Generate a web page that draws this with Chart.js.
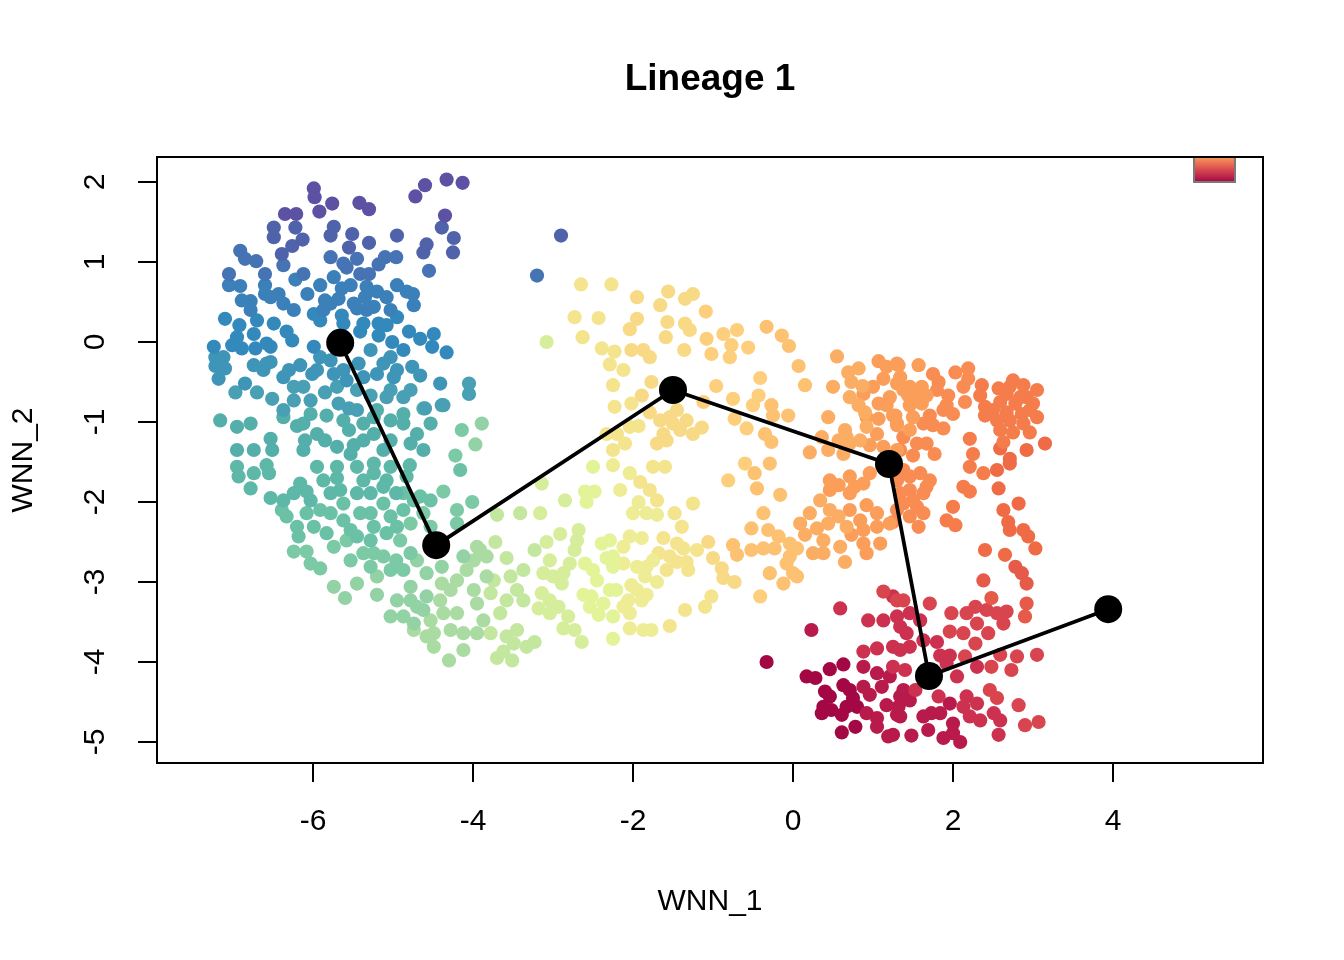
<!DOCTYPE html>
<html>
<head>
<meta charset="utf-8">
<script src="https://cdn.jsdelivr.net/npm/chart.js@4.4.1/dist/chart.umd.min.js"></script>
<style>
  html, body { margin: 0; padding: 0; background: #fff; }
  #wrap { width: 1344px; height: 960px; }
</style>
</head>
<body>
<div id="wrap"><canvas id="lineage" width="1344" height="960"></canvas></div>
<script>
// cells, grouped by colour band along the pseudotime (start = purple, end = dark red)
const purple = [[-5.99,1.92],[-5.98,1.81],[-5.76,1.73],[-5.92,1.63],[-5.42,1.74],[-5.30,1.66],[-6.35,1.60],[-6.21,1.60],[-4.60,1.96],[-4.72,1.82],[-4.33,2.03],[-4.13,1.99],[-4.35,1.58]];
const indigo = [[-6.22,1.43],[-6.49,1.43],[-6.49,1.31],[-6.13,1.28],[-5.74,1.44],[-5.78,1.33],[-5.51,1.35],[-5.30,1.24],[-4.95,1.33],[-4.39,1.43],[-4.24,1.30],[-4.58,1.22],[-4.62,1.12],[-4.25,1.12],[-2.90,1.33],[-6.39,1.10],[-6.26,1.20],[-5.55,1.18]];
const blueIndigo = [[-6.91,1.14],[-6.85,1.04],[-6.71,1.01],[-6.37,0.96],[-5.78,1.06],[-5.45,1.04],[-5.58,0.93],[-5.10,1.06],[-4.96,1.06],[-5.18,0.97],[-5.41,0.85],[-5.30,0.85],[-4.55,0.89],[-7.05,0.85],[-6.60,0.85],[-6.12,0.85],[-3.20,0.83],[-5.62,0.98]];
const blue = [[-7.05,0.71],[-6.91,0.70],[-6.60,0.71],[-6.22,0.78],[-6.07,0.60],[-5.91,0.71],[-5.74,0.81],[-5.64,0.67],[-5.53,0.71],[-6.60,0.60],[-6.43,0.60],[-4.95,0.71],[-4.83,0.63],[-4.75,0.60],[-4.74,0.46],[-5.20,0.63],[-5.35,0.56],[-5.08,0.56],[-5.85,0.52],[-5.68,0.54],[-6.78,0.51],[-6.78,0.40],[-6.24,0.40],[-5.87,0.40],[-5.45,0.42],[-5.33,0.40],[-6.89,0.52],[-6.53,0.56],[-6.37,0.48],[-5.78,0.48],[-5.49,0.48],[-5.24,0.44],[-5.03,0.40],[-5.33,0.69]];
const blue2 = [[-7.10,0.29],[-6.92,0.21],[-6.70,0.27],[-6.49,0.23],[-6.33,0.13],[-6.26,0.02],[-6.74,0.10],[-7.01,-0.04],[-7.24,-0.06],[-6.89,-0.08],[-6.72,-0.08],[-6.53,-0.06],[-5.91,0.27],[-5.64,0.33],[-5.18,0.23],[-5.08,0.21],[-5.41,0.13],[-5.18,0.08],[-5.01,0.00],[-4.80,0.13],[-4.66,0.04],[-4.49,0.10],[-4.51,-0.06],[-4.33,-0.13],[-5.99,0.35],[-4.95,0.31],[-5.62,0.23],[-5.37,0.23],[-6.95,0.06],[-6.58,-0.02],[-5.99,-0.06],[-5.70,-0.06],[-4.87,-0.10]];
const tealBlue = [[-7.22,-0.19],[-7.22,-0.30],[-7.10,-0.33],[-7.18,-0.46],[-6.74,-0.29],[-6.53,-0.25],[-6.62,-0.35],[-6.16,-0.29],[-5.91,-0.19],[-5.43,-0.27],[-5.28,-0.10],[-5.03,-0.19],[-4.76,-0.31],[-6.37,-0.44],[-6.01,-0.40],[-5.74,-0.40],[-5.20,-0.40],[-4.99,-0.44],[-4.66,-0.42],[-6.85,-0.52],[-4.41,-0.52],[-5.58,-0.48],[-7.12,-0.19],[-6.58,-0.27],[-6.30,-0.35],[-5.95,-0.35],[-5.78,-0.23],[-5.62,-0.35],[-5.37,-0.44],[-5.12,-0.27],[-4.95,-0.35]];
const tealBlue2 = [[-6.97,-0.63],[-6.70,-0.63],[-6.12,-0.56],[-5.70,-0.56],[-5.85,-0.63],[-5.45,-0.60],[-5.28,-0.67],[-5.08,-0.69],[-4.87,-0.69],[-6.51,-0.71],[-6.24,-0.73],[-6.03,-0.73],[-6.37,-0.85],[-5.68,-0.77],[-5.55,-0.83],[-4.37,-0.79],[-4.60,-0.83],[-4.05,-0.52],[-4.05,-0.65],[-4.39,-0.79],[-6.24,-0.56],[-5.03,-0.60],[-4.78,-0.60],[-5.45,-0.85]];
const teal = [[-7.16,-0.98],[-6.95,-1.06],[-6.78,-1.02],[-6.53,-1.21],[-6.20,-1.05],[-6.10,-1.23],[-6.03,-0.90],[-5.83,-0.92],[-5.85,-1.23],[-5.55,-1.10],[-5.37,-1.02],[-5.20,-0.85],[-5.03,-0.98],[-4.87,-1.02],[-4.62,-0.83],[-4.70,-1.15],[-5.24,-1.15],[-5.03,-1.23],[-6.51,-1.35],[-6.12,-1.35],[-5.70,-1.31],[-5.49,-1.29],[-4.62,-1.35],[-6.95,-1.35],[-6.74,-1.35],[-5.24,-0.94],[-5.62,-0.98],[-6.12,-1.02],[-6.37,-0.94],[-5.95,-1.15],[-5.37,-1.23],[-5.12,-1.35],[-4.78,-1.27],[-4.87,-0.90],[-4.53,-1.02],[-5.53,-1.40]];
const teal2 = [[-6.95,-1.56],[-6.93,-1.68],[-6.74,-1.64],[-6.58,-1.54],[-6.55,-1.64],[-6.78,-1.83],[-6.16,-1.77],[-6.08,-1.87],[-5.95,-1.56],[-5.87,-1.73],[-5.70,-1.70],[-5.78,-1.89],[-5.45,-1.89],[-5.45,-1.56],[-5.24,-1.64],[-5.08,-1.73],[-5.28,-1.89],[-4.96,-1.89],[-4.83,-1.68],[-4.79,-1.54],[-6.53,-1.95],[-6.37,-1.98],[-6.24,-1.89],[-6.03,-1.98],[-5.66,-1.85],[-5.37,-1.73],[-5.12,-1.81],[-5.03,-1.56],[-5.24,-1.52],[-5.70,-1.56]];
const greenTeal = [[-6.39,-2.10],[-6.33,-2.18],[-6.20,-2.31],[-6.18,-2.43],[-6.08,-2.14],[-5.91,-2.10],[-5.99,-2.31],[-5.83,-2.39],[-5.62,-2.23],[-5.53,-2.35],[-5.62,-2.02],[-5.12,-2.02],[-5.28,-2.14],[-5.03,-2.18],[-5.24,-2.31],[-4.66,-1.93],[-4.53,-1.98],[-4.16,-1.60],[-5.78,-2.14],[-5.41,-2.14],[-5.45,-2.43],[-5.28,-2.48],[-5.08,-2.39],[-4.95,-2.31],[-4.87,-2.10],[-4.74,-1.98],[-4.87,-1.89]];
const green = [[-6.24,-2.62],[-6.08,-2.62],[-6.03,-2.77],[-5.91,-2.83],[-5.74,-2.56],[-5.58,-2.48],[-5.53,-2.73],[-5.37,-2.64],[-4.91,-2.48],[-5.12,-2.68],[-5.03,-2.85],[-4.78,-2.27],[-4.78,-2.64],[-4.37,-1.87],[-4.20,-2.10],[-4.20,-2.27],[-4.01,-2.00],[-4.14,-1.10],[-4.22,-1.42],[-4.62,-2.14],[-4.53,-2.31],[-5.24,-2.64],[-5.28,-2.81],[-4.96,-2.73],[-4.87,-2.85]];
const lightGreen = [[-5.74,-3.06],[-5.60,-3.20],[-5.45,-3.02],[-5.20,-3.16],[-5.03,-3.43],[-4.95,-3.23],[-4.78,-3.06],[-4.70,-3.31],[-4.74,-3.52],[-4.58,-3.18],[-4.70,-2.73],[-4.58,-2.89],[-4.39,-2.81],[-4.12,-2.68],[-3.97,-1.28],[-3.89,-1.02],[-5.20,-2.93],[-4.78,-3.23],[-4.62,-3.35],[-4.87,-3.43]];
const paleGreen = [[-4.53,-3.48],[-4.49,-3.64],[-4.49,-3.81],[-4.37,-3.39],[-4.39,-3.02],[-4.20,-3.39],[-4.28,-3.60],[-4.30,-3.98],[-4.12,-3.85],[-4.12,-3.64],[-4.20,-2.98],[-3.99,-3.10],[-3.95,-2.56],[-3.95,-3.27],[-3.87,-3.48],[-3.95,-3.64],[-3.83,-2.93],[-4.74,-3.60],[-4.58,-3.68],[-4.41,-3.23],[-4.28,-3.10],[-4.08,-2.85],[-3.99,-2.73],[-3.83,-2.68],[-3.91,-2.60]];
const yellowGreen = [[-3.74,-2.98],[-3.66,-3.39],[-3.72,-2.50],[-3.58,-2.70],[-3.70,-2.16],[-3.45,-3.10],[-3.37,-3.23],[-3.49,-3.77],[-3.70,-3.95],[-3.51,-3.98],[-3.62,-3.87],[-3.33,-3.81],[-3.45,-3.60],[-3.41,-2.14],[-3.23,-2.60],[-3.23,-3.75],[-3.78,-3.14],[-3.58,-3.23],[-3.53,-2.93],[-3.37,-2.85],[-3.58,-3.68],[-3.78,-3.64]];
const yellowGreen2 = [[-3.14,-1.77],[-3.16,-2.14],[-3.08,-2.50],[-2.91,-2.40],[-2.68,-2.35],[-2.70,-2.48],[-2.73,-2.60],[-2.79,-2.77],[-2.87,-2.89],[-2.89,-3.02],[-3.14,-3.14],[-3.04,-3.23],[-2.93,-3.31],[-3.18,-3.33],[-2.81,-3.43],[-2.73,-3.60],[-2.64,-3.75],[-2.85,-1.98],[-3.08,0.00],[-3.04,-2.73],[-3.00,-2.93],[-3.12,-2.89],[-3.04,-3.39],[-2.87,-3.58]];
const yellowGreen3 = [[-2.60,-2.77],[-2.50,-2.85],[-2.39,-2.52],[-2.29,-2.48],[-2.33,-2.70],[-2.25,-2.81],[-2.62,-3.16],[-2.52,-3.18],[-2.54,-3.31],[-2.43,-3.41],[-2.21,-3.10],[-2.25,-3.43],[-2.50,-1.56],[-2.60,-1.87],[-2.48,-1.87],[-2.58,-2.00],[-2.25,-3.71],[-2.45,-2.98],[-2.29,-3.10],[-2.37,-3.27],[-2.25,-2.68]];
const paleYellow = [[-2.25,-1.54],[-2.16,-1.85],[-1.93,-2.00],[-2.00,-2.14],[-1.83,-2.14],[-2.04,-2.43],[-1.89,-2.45],[-2.12,-2.77],[-1.95,-2.81],[-1.83,-2.81],[-1.85,-2.93],[-2.02,-3.04],[-2.06,-3.23],[-2.04,-3.39],[-1.89,-3.23],[-1.83,-3.16],[-2.04,-3.58],[-1.87,-3.60],[-1.77,-3.60],[-1.70,-2.16],[-1.70,-3.00],[-2.12,-3.31],[-1.95,-3.10],[-2.12,-2.56],[-1.75,-2.73],[-2.04,-1.64]];
const yellow = [[-1.91,-1.75],[-1.79,-1.85],[-1.75,-1.56],[-1.60,-1.56],[-1.48,-2.14],[-1.39,-2.31],[-1.25,-2.02],[-1.62,-2.45],[-1.68,-2.64],[-1.58,-2.85],[-1.45,-2.75],[-1.33,-2.75],[-1.31,-2.85],[-1.54,-3.55],[-1.35,-3.35],[-1.10,-3.31],[-1.02,-3.18],[-1.37,-2.58],[-1.20,-2.60],[-2.65,0.72],[-2.27,0.72],[-2.73,0.31],[-2.43,0.30],[-2.63,0.06],[-2.39,-0.08],[-2.23,-0.12],[-2.29,-0.28],[-2.12,-0.35],[-2.25,-0.54],[-2.23,-0.81],[-2.33,-1.15],[-2.10,-1.27],[-2.02,-0.77],[-1.93,-1.05],[-1.54,-2.68],[-1.45,-2.52],[-1.70,-1.98],[-2.20,-1.15],[-2.04,-1.06],[-2.25,-1.35]];
const yellowOrange = [[-1.06,-2.50],[-1.00,-2.70],[-0.89,-2.83],[-0.87,-2.95],[-0.73,-3.00],[-1.89,-0.67],[-1.77,-0.50],[-1.79,-0.88],[-2.02,-0.10],[-1.87,-0.10],[-1.79,-0.19],[-1.95,0.29],[-2.04,0.16],[-1.95,0.56],[-1.66,0.46],[-1.56,0.63],[-1.57,0.25],[-1.59,0.06],[-1.36,-0.10],[-1.35,0.23],[-1.29,0.15],[-1.35,0.54],[-1.25,0.60],[-1.66,-0.98],[-1.54,-0.94],[-1.45,-0.85],[-1.41,-1.10],[-1.25,-1.15],[-1.14,-1.07],[-1.58,-1.23],[-1.70,-1.27],[-1.62,-1.15],[-1.50,-1.02],[-1.33,-0.98]];
const lightOrange = [[-1.09,0.38],[-1.08,0.04],[-1.02,-0.15],[-0.87,0.10],[-0.77,-0.04],[-0.79,-0.19],[-0.70,0.15],[-0.56,-0.07],[-0.96,-0.55],[-1.12,-0.75],[-0.75,-0.71],[-0.41,-0.45],[-0.43,-0.67],[-0.50,-0.79],[-0.73,-0.96],[-0.58,-1.08],[-0.81,-1.73],[-0.60,-1.52],[-0.41,-3.18]];
const lightOrange2 = [[-0.33,0.19],[-0.14,0.08],[-0.05,-0.05],[0.07,-0.30],[0.15,-0.54],[-0.27,-0.79],[-0.25,-0.92],[-0.06,-0.92],[-0.35,-1.15],[-0.27,-1.25],[-0.48,-1.64],[-0.45,-1.83],[-0.29,-1.52],[-0.16,-1.91],[-0.37,-2.14],[-0.52,-2.33],[-0.31,-2.35],[-0.18,-2.43],[-0.75,-2.54],[-0.70,-2.66],[-0.52,-2.60],[-0.37,-2.58],[-0.23,-2.58],[-0.29,-2.89],[-0.12,-3.02],[-0.04,-2.68],[0.00,-2.89],[0.05,-2.93],[0.05,-2.58],[-0.04,-2.52],[-0.08,-2.77]];
const orange = [[0.55,-0.18],[0.69,-0.38],[0.82,-0.33],[0.73,-0.50],[0.87,-0.55],[0.50,-0.56],[0.82,-0.79],[0.90,-0.88],[0.44,-0.94],[0.65,-1.10],[0.92,-1.06],[0.36,-1.19],[0.57,-1.23],[0.71,-1.27],[0.84,-1.23],[0.44,-1.35],[0.21,-1.38],[0.63,-1.40],[0.09,-2.27],[0.21,-2.14],[0.15,-2.41],[0.30,-2.33],[0.38,-2.48],[0.25,-2.64],[0.46,-2.10],[0.44,-2.27],[0.57,-2.18],[0.59,-2.56],[0.65,-2.75],[0.34,-1.98],[0.67,-2.31],[0.38,-2.64],[0.67,-1.19],[0.71,-0.69]];
const orange2 = [[1.07,-0.24],[1.17,-0.31],[1.30,-0.27],[1.13,-0.46],[1.30,-0.52],[1.07,-0.77],[1.17,-0.79],[1.07,-0.96],[1.25,-0.92],[1.05,-1.15],[1.30,-1.02],[0.96,-1.29],[1.13,-1.31],[1.30,-1.35],[1.32,-0.29],[1.34,-0.44],[1.57,-0.29],[1.46,-0.56],[1.61,-0.56],[1.44,-0.67],[1.67,-0.67],[1.46,-0.79],[1.61,-0.77],[1.28,-0.92],[1.30,-1.04],[1.50,-0.94],[1.46,-1.10],[0.46,-1.85],[0.57,-1.79],[0.71,-1.89],[0.77,-1.81],[0.71,-2.10],[0.84,-2.23],[0.73,-2.41],[0.88,-2.35],[0.92,-2.04],[1.05,-2.14],[1.05,-2.31],[1.09,-2.52],[1.21,-2.27],[0.96,-1.64],[0.88,-1.77],[0.46,-1.73],[0.71,-1.68],[0.88,-2.52],[0.92,-2.64],[1.00,-0.56],[0.88,-0.65],[1.21,-0.69],[0.92,-0.94],[1.38,-0.60],[1.55,-0.65]];
const orange3 = [[1.75,-0.40],[1.82,-0.50],[2.03,-0.38],[2.19,-0.33],[1.94,-0.67],[2.13,-0.56],[2.19,-0.46],[1.92,-0.79],[2.15,-0.75],[1.71,-0.92],[1.75,-1.04],[1.88,-1.08],[2.00,-0.90],[1.67,-1.27],[1.77,-1.40],[1.50,-1.42],[1.38,-1.60],[1.59,-1.64],[1.71,-1.73],[1.46,-1.85],[1.63,-1.89],[1.38,-2.02],[1.55,-2.06],[1.46,-2.18],[1.57,-2.31],[1.25,-2.25],[1.80,-0.60],[1.88,-0.85],[1.63,-1.02],[1.38,-1.19],[1.55,-1.27],[1.34,-1.35],[1.30,-1.73],[1.46,-1.68],[1.67,-1.81],[1.34,-1.89],[1.50,-1.98],[1.63,-2.14],[1.30,-2.10]];
const darkOrange = [[2.36,-0.54],[2.34,-0.67],[2.40,-0.81],[2.40,-0.92],[2.21,-1.21],[2.25,-1.40],[2.57,-0.58],[2.75,-0.48],[2.88,-0.54],[3.05,-0.60],[2.67,-0.65],[2.92,-0.69],[2.59,-0.75],[2.78,-0.77],[3.00,-0.77],[2.67,-0.88],[2.86,-0.90],[3.05,-0.94],[2.55,-0.98],[2.59,-1.10],[2.75,-1.13],[2.96,-1.13],[2.63,-1.25],[2.21,-1.56],[2.38,-1.64],[2.13,-1.81],[2.21,-1.87],[2.00,-2.06],[1.92,-2.23],[2.03,-2.29],[2.71,-0.56],[2.84,-0.69],[2.96,-0.85],[2.71,-0.98],[2.88,-1.02],[2.50,-0.85]];
const orangeRed = [[3.15,-1.27],[2.59,-1.33],[2.92,-1.35],[2.71,-1.46],[2.55,-1.60],[2.71,-1.52],[2.57,-1.83],[2.63,-2.10],[2.82,-2.02],[2.69,-2.25],[2.71,-2.35],[2.88,-2.35],[2.94,-2.43],[3.03,-2.58],[2.40,-2.60],[2.65,-2.66]];
const redOrange = [[2.78,-2.81],[2.86,-2.89],[2.92,-3.02],[2.38,-2.98],[2.92,-3.27],[2.90,-3.43],[2.48,-3.20]];
const red = [[1.71,-3.27],[1.38,-3.23],[1.98,-3.39],[2.17,-3.39],[2.28,-3.31],[2.42,-3.35],[2.55,-3.39],[2.67,-3.37],[2.30,-3.52],[2.63,-3.52],[1.96,-3.62],[2.13,-3.64],[2.44,-3.64],[2.28,-3.77],[2.59,-3.91],[2.80,-3.93],[3.05,-3.91],[2.48,-4.06],[2.73,-4.10],[1.13,-3.12],[1.30,-3.23],[2.46,-4.35],[2.55,-4.45],[2.82,-4.54],[2.90,-4.79],[3.07,-4.75],[2.15,-3.93]];
const crimson = [[1.80,-3.75],[1.96,-3.92],[1.84,-3.92],[2.30,-4.06],[2.05,-4.18],[1.25,-3.18],[1.34,-3.56],[1.34,-3.85],[1.25,-4.06],[1.40,-4.10],[2.17,-4.43],[1.82,-4.43],[1.53,-4.35],[2.21,-4.68],[2.51,-4.64],[2.59,-4.73],[2.57,-4.91],[0.94,-3.48],[1.13,-3.48],[0.88,-3.87],[1.05,-3.83],[1.25,-3.81],[0.59,-3.33],[1.46,-3.39],[1.30,-3.43],[1.59,-3.48],[1.42,-3.64],[1.63,-3.73],[1.46,-3.81],[1.92,-4.02],[2.30,-4.52],[2.34,-4.73],[2.13,-4.56]];
const darkCrimson = [[1.46,-4.48],[1.32,-4.56],[1.63,-4.68],[1.84,-4.64],[2.00,-4.77],[1.69,-4.85],[1.48,-4.92],[1.88,-4.95],[2.09,-5.00],[1.25,-4.91],[1.34,-4.68],[0.88,-4.06],[1.05,-4.14],[1.21,-4.18],[1.11,-4.31],[0.96,-4.41],[1.17,-4.54],[1.30,-4.66],[1.05,-4.70],[1.05,-4.81],[1.19,-4.93],[0.23,-3.60],[1.38,-4.35],[1.34,-4.43],[1.96,-4.52],[2.00,-4.89],[1.73,-4.64],[0.88,-4.31],[0.92,-4.64]];
const darkRed = [[0.63,-4.03],[0.46,-4.09],[0.17,-4.18],[0.28,-4.20],[0.63,-4.29],[0.40,-4.37],[0.75,-4.45],[0.80,-4.56],[0.36,-4.64],[0.48,-4.60],[0.61,-4.66],[0.78,-4.81],[0.61,-4.88],[-0.33,-4.00],[0.38,-4.56],[0.46,-4.43],[0.71,-4.35],[0.67,-4.56]];

// lineage 1 curve nodes
const lineageX = [-5.66, -4.46, -1.50, 1.20, 1.70, 3.94];
const lineageY = [-0.01, -2.54, -0.60, -1.525, -4.175, -3.34];

const xTicks = [-6, -4, -2, 0, 2, 4];
const yTicks = [-5, -4, -3, -2, -1, 0, 1, 2];

const bands = [purple, indigo, blueIndigo, blue, blue2, tealBlue, tealBlue2, teal, teal2,
  greenTeal, green, lightGreen, paleGreen, yellowGreen, yellowGreen2, yellowGreen3,
  paleYellow, yellow, yellowOrange, lightOrange, lightOrange2, orange, orange2, orange3,
  darkOrange, orangeRed, redOrange, red, crimson, darkCrimson, darkRed];
const bandColors = ["#5c51a3", "#5062aa", "#4673b3", "#3b80b9", "#3389bc", "#3f95b8", "#49a0b4",
  "#54afab", "#5db8a8", "#6bc1a6", "#7cc9a5", "#93d2a4", "#a9dba2", "#c3e79e", "#d6ee9b", "#e3f398",
  "#eeed95", "#f4e48d", "#f8da86", "#fdcf7d", "#fdc172", "#fcad64", "#fa9e5a", "#f88c52",
  "#f57c4b", "#ef6b46", "#e55a48", "#d9454f", "#cc3250", "#b81b4b", "#a30845"];

const FONT = "'Liberation Sans', Arial, Helvetica, sans-serif";
Chart.defaults.font.family = FONT;
Chart.defaults.color = "#000";

const datasets = [{
  type: "line",
  label: "Lineage 1",
  data: lineageX.map((x, i) => ({ x: x, y: lineageY[i] })),
  borderColor: "#000",
  borderWidth: 3.8,
  pointRadius: 14,
  pointBackgroundColor: "#000",
  pointBorderWidth: 0,
  tension: 0,
  fill: false,
  order: 0,
}];
bands.forEach((band, i) => {
  datasets.push({
    type: "scatter",
    label: "band " + i,
    data: band.map(p => ({ x: p[0], y: p[1] })),
    backgroundColor: bandColors[i],
    pointRadius: 7.1,
    pointBorderWidth: 0,
    order: 1,
  });
});

// R style: box around the plot, bold title, clipped colour key in the corner
const decor = {
  id: "decor",
  afterDraw(chart) {
    const { ctx, chartArea: a } = chart;
    ctx.save();
    // legend key (clipped by the plot region like the original)
    ctx.beginPath();
    ctx.rect(a.left, a.top, a.right - a.left, a.bottom - a.top);
    ctx.clip();
    const kx = a.right - 69, ky = a.top, kw = 41, kh = 25;
    const g = ctx.createLinearGradient(0, ky, 0, ky + kh);
    g.addColorStop(0, "#fa9a59");
    g.addColorStop(0.5, "#d94a4f");
    g.addColorStop(1, "#a30845");
    ctx.fillStyle = g;
    ctx.fillRect(kx, ky, kw, kh);
    ctx.strokeStyle = "#7a7a7a";
    ctx.lineWidth = 2;
    ctx.strokeRect(kx, ky, kw, kh);
    ctx.restore();

    ctx.save();
    ctx.strokeStyle = "#000";
    ctx.lineWidth = 2;
    ctx.strokeRect(a.left, a.top, a.right - a.left, a.bottom - a.top);
    ctx.fillStyle = "#000";
    ctx.font = "bold 37px " + FONT;
    ctx.textAlign = "center";
    ctx.textBaseline = "middle";
    ctx.fillText("Lineage 1", (a.left + a.right) / 2, 80);
    ctx.restore();
  }
};

new Chart(document.getElementById("lineage"), {
  data: { datasets: datasets },
  plugins: [decor],
  options: {
    responsive: false,
    devicePixelRatio: 1,
    animation: false,
    events: [],
    layout: { padding: { left: 0, right: 81, top: 157, bottom: 0 } },
    plugins: { legend: { display: false }, tooltip: { enabled: false }, title: { display: false } },
    scales: {
      x: {
        type: "linear",
        position: "bottom",
        min: -7.95,
        max: 5.875,
        afterBuildTicks: s => { s.ticks = xTicks.map(v => ({ value: v })); },
        afterFit: s => { s.height = 197; },
        border: { display: false },
        grid: { drawOnChartArea: false, drawTicks: true, tickLength: 19, color: "#000", lineWidth: 2 },
        ticks: { font: { size: 30 }, padding: 22, color: "#000", maxRotation: 0, autoSkip: false },
        title: { display: true, text: "WNN_1", font: { size: 30 }, color: "#000", padding: { top: 0, bottom: 40 } },
      },
      y: {
        type: "linear",
        position: "left",
        min: -5.2625,
        max: 2.3125,
        afterBuildTicks: s => { s.ticks = yTicks.map(v => ({ value: v })); },
        afterFit: s => { s.width = 157; },
        border: { display: false },
        grid: { drawOnChartArea: false, drawTicks: true, tickLength: 19, color: "#000", lineWidth: 2 },
        ticks: { font: { size: 30 }, padding: 29, color: "#000", minRotation: 90, maxRotation: 90, crossAlign: "center", autoSkip: false },
        title: { display: true, text: "WNN_2", font: { size: 30 }, color: "#000", padding: { top: 6, bottom: 0 } },
      },
    },
  },
});
</script>
</body>
</html>
